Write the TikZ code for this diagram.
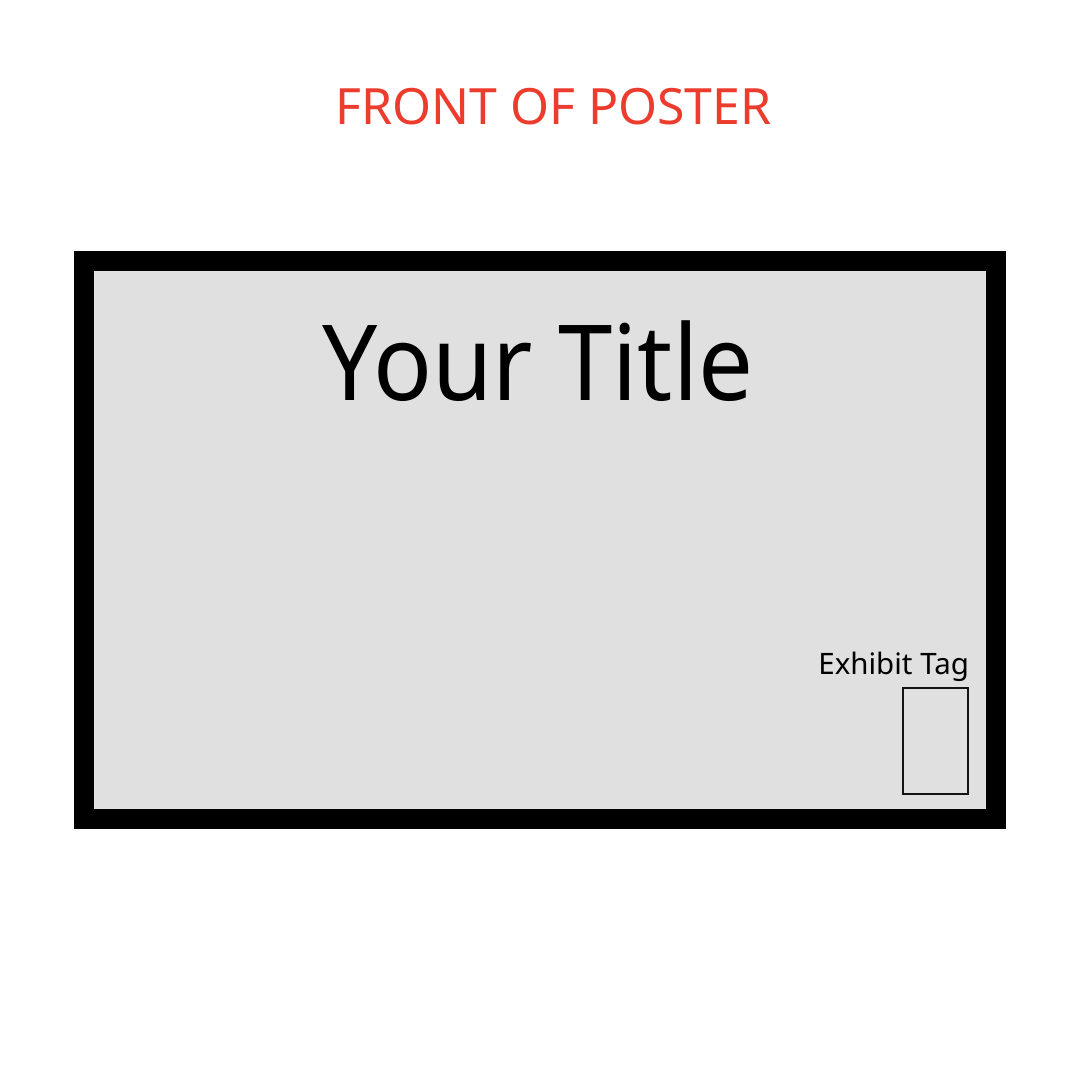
\documentclass[tikz,border=0pt]{standalone}
\usepackage{fontspec}
\setmainfont{Noto Sans}
\definecolor{headred}{RGB}{236,60,45}
\definecolor{postergray}{RGB}{224,224,224}
\definecolor{tagline}{RGB}{20,20,20}
\tikzset{
  frame/.style={fill=black},
  board/.style={fill=postergray},
  tagbox/.style={draw=tagline, line width=2.4pt},
  lbl/.style={inner sep=0pt, outer sep=0pt}
}
\begin{document}
\begin{tikzpicture}[x=1pt,y=-1pt]
\useasboundingbox (0,0) rectangle (1080,1080);
\fill[white] (0,0) rectangle (1080,1080);
\fill[frame] (74,251) rectangle (1006,829);
\fill[board] (94,271) rectangle (986,809);
\node[lbl, anchor=base, text=headred, font=\fontsize{50}{60}\selectfont] (head) at (553.5,124) {FRONT OF POSTER};
\node[lbl, anchor=base, font=\fontsize{105}{120}\selectfont] (title) at (538,400) {\scalebox{0.93}[1]{Your Title}};
\node[lbl, anchor=base east, font=\fontsize{29.5}{34}\selectfont] (taglbl) at (969,674) {Exhibit Tag};
\draw[tagbox] (903,688) rectangle (968,794);
\node[lbl] (tag) at (935.5,741) {};
\end{tikzpicture}
\end{document}
